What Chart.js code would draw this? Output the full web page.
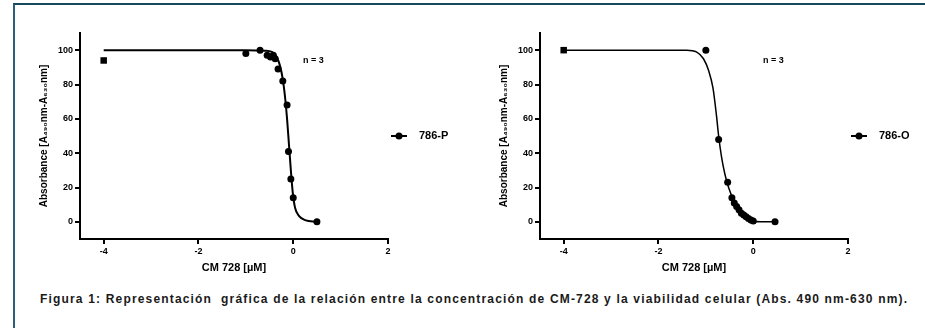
<!DOCTYPE html>
<html lang="es">
<head>
<meta charset="utf-8">
<title>Viabilidad celular CM-728</title>
<script src="https://cdn.jsdelivr.net/npm/chart.js@4"></script>
<style>
  html, body { margin: 0; padding: 0; background: #fff; width: 925px; height: 328px; overflow: hidden; }
  .frame { position: absolute; left: 13px; top: 3px; width: 930px; height: 340px;
           border-top: 2px solid #17475a; border-left: 2px solid #2a6079; }
  .panel { position: absolute; top: 20px; width: 460px; height: 262px; }
  #caption { position: absolute; left: 40px; top: 292px; white-space: pre; color: #1a1a1a;
             font: bold 12px "Liberation Sans", Arial, sans-serif; letter-spacing: 1.17px; }
</style>
</head>
<body>
<div class="frame"></div>
<div class="panel" style="left:0"><canvas id="chartP"></canvas></div>
<div class="panel" style="left:460px"><canvas id="chartO"></canvas></div>
<div id="caption">Figura 1: Representación  gráfica de la relación entre la concentración de CM-728 y la viabilidad celular (Abs. 490 nm-630 nm).</div>

<script>
// axis ticks (log concentration / % absorbance)
const xTicks = [-4, -2, 0, 2];
const yTicks = [0, 20, 40, 60, 80, 100];

// 786-P: measured points
const pLogConc = [-4, -1.0, -0.7, -0.55, -0.48, -0.42, -0.38, -0.32, -0.22, -0.13, -0.1, -0.05, 0.0, 0.5];
const pAbs     = [94, 98, 100, 97, 96, 97, 95, 89, 82, 68, 41, 25, 14, 0];
// 786-P: fitted curve
const pFitX = [-4, -1, -0.6, -0.45, -0.35, -0.28, -0.22, -0.17, -0.13, -0.09, -0.05, -0.01, 0.04, 0.12, 0.25, 0.5];
const pFitY = [100, 100, 99.7, 99, 96, 91, 83, 72, 60, 45, 30, 17, 8, 3.5, 1, 0];

// 786-O: measured points
const oLogConc = [-4, -1.0, -0.73, -0.54, -0.45, -0.4, -0.35, -0.3, -0.25, -0.2, -0.15, -0.1, -0.05, 0.0, 0.46];
const oAbs     = [100, 100, 48, 23, 14, 11, 9, 7, 5, 4, 3, 2, 1, 0.5, 0];
// 786-O: fitted curve
const oFitX = [-4, -1.4, -1.2, -1.05, -0.94, -0.85, -0.78, -0.73, -0.67, -0.6, -0.52, -0.42, -0.3, -0.15, 0, 0.15, 0.46];
const oFitY = [100, 100, 99, 95, 88, 78, 63, 50, 38, 28, 20, 13, 7, 2.5, 0.5, 0, 0];

const yTitle = 'Absorbance [A\u2084\u2089\u2080nm-A\u2086\u2083\u2080nm]';
const xTitle = 'CM 728 [\u00b5M]';
const FONT = '"Liberation Sans", Arial, sans-serif';

// series key at the right of the plot and the "n = 3" note
const sideLabels = {
  id: 'sideLabels',
  afterDraw(chart, args, opts) {
    const { ctx, chartArea } = chart;
    const midY = (chartArea.top + chartArea.bottom) / 2;
    const x0 = chartArea.right + 3;
    ctx.save();
    ctx.strokeStyle = '#000';
    ctx.fillStyle = '#000';
    ctx.lineWidth = 2;
    ctx.beginPath();
    ctx.moveTo(x0, midY);
    ctx.lineTo(x0 + 16, midY);
    ctx.stroke();
    ctx.beginPath();
    ctx.arc(x0 + 8, midY, 3.5, 0, Math.PI * 2);
    ctx.fill();
    ctx.font = 'bold 11px ' + FONT;
    ctx.textBaseline = 'middle';
    ctx.fillText(chart.data.datasets[0].label, x0 + 28, midY);
    ctx.font = 'bold 9px ' + FONT;
    ctx.fillText(opts.note, chartArea.left + 223, chartArea.top + 28);
    ctx.restore();
  }
};

function makeChart(id, label, xs, ys, fx, fy, curveWidth) {
  const points = xs.map((x, i) => ({ x: x, y: ys[i] }));
  const curve = fx.map((x, i) => ({ x: x, y: fy[i] }));
  return new Chart(document.getElementById(id), {
    type: 'scatter',
    data: {
      datasets: [{
        label: label,
        data: points,
        pointStyle: xs.map((x, i) => i === 0 ? 'rect' : 'circle'),
        pointRadius: xs.map((x, i) => i === 0 ? 4.6 : 3.5),
        backgroundColor: '#000',
        borderColor: '#000',
        borderWidth: 0,
        order: 1
      }, {
        label: 'ajuste',
        data: curve,
        showLine: true,
        pointRadius: 0,
        borderColor: '#000',
        borderWidth: curveWidth,
        cubicInterpolationMode: 'monotone',
        order: 2
      }]
    },
    plugins: [sideLabels],
    options: {
      responsive: true,
      maintainAspectRatio: false,
      animation: false,
      layout: { padding: { top: 13, right: 72, left: 0, bottom: 0 } },
      plugins: {
        legend: { display: false },
        tooltip: { enabled: false },
        sideLabels: { note: 'n = 3' }
      },
      scales: {
        x: {
          type: 'linear',
          min: -4.5,
          max: 2,
          afterBuildTicks: s => { s.ticks = xTicks.map(v => ({ value: v })); },
          afterFit: s => { s.height = 43; },
          grid: { drawOnChartArea: false, drawTicks: true, tickLength: 5, color: '#000', lineWidth: 2 },
          border: { color: '#000', width: 2 },
          ticks: { color: '#000', padding: 2, font: { family: FONT, size: 9, weight: 'bold' } },
          title: { display: true, text: xTitle, color: '#000',
                   font: { family: FONT, size: 11, weight: 'bold' }, padding: { top: 0, bottom: 7 } }
        },
        y: {
          min: -10,
          max: 110,
          afterBuildTicks: s => { s.ticks = yTicks.map(v => ({ value: v })); },
          afterFit: s => { s.width = 80; },
          grid: { drawOnChartArea: false, drawTicks: true, tickLength: 5, color: '#000', lineWidth: 2 },
          border: { color: '#000', width: 2 },
          ticks: { color: '#000', padding: 2, font: { family: FONT, size: 9, weight: 'bold' } },
          title: { display: true, text: yTitle, color: '#000',
                   font: { family: FONT, size: 10, weight: 'bold' }, padding: { top: 38, bottom: 0 } }
        }
      }
    }
  });
}

makeChart('chartP', '786-P', pLogConc, pAbs, pFitX, pFitY, 2);
makeChart('chartO', '786-O', oLogConc, oAbs, oFitX, oFitY, 1.5);
</script>
</body>
</html>
